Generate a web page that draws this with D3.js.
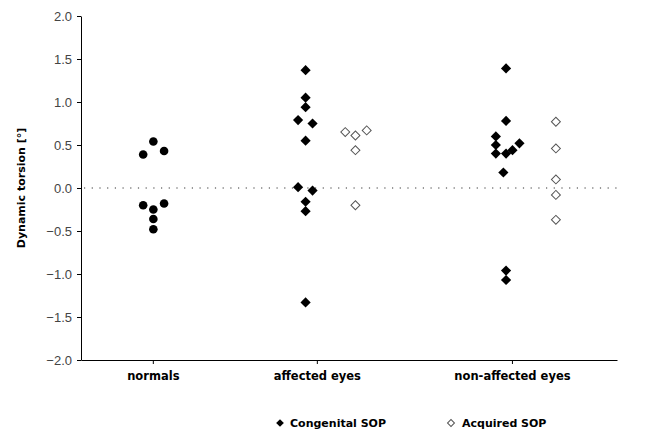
<!DOCTYPE html>
<html>
<head>
<meta charset="utf-8">
<script src="https://cdn.jsdelivr.net/npm/d3@7"></script>
<style>
  html, body { margin: 0; padding: 0; background: #fff; }
  svg { display: block; }
</style>
</head>
<body>
<script>
// ---- data ----
const categories = ["normals", "affected eyes", "non-affected eyes"];
const categoryPos = [13.4, 44.0, 80.4];
const yTickValues = [2.0, 1.5, 1.0, 0.5, 0.0, -0.5, -1.0, -1.5, -2.0];

const normalsPos = [11.6, 13.5, 15.5, 11.6, 13.5, 15.5, 13.5, 13.5];
const normalsVal = [0.39, 0.54, 0.43, -0.20, -0.25, -0.18, -0.36, -0.48];

const congenitalPos = [41.9, 41.9, 41.9, 40.5, 43.2, 41.9, 40.5, 43.2, 41.9, 41.9, 41.9,
                       79.3, 79.3, 77.4, 77.4, 81.8, 77.4, 79.3, 80.5, 78.8, 79.3, 79.3];
const congenitalVal = [1.37, 1.05, 0.94, 0.79, 0.75, 0.55, 0.01, -0.03, -0.16, -0.27, -1.33,
                       1.39, 0.78, 0.60, 0.50, 0.52, 0.40, 0.40, 0.44, 0.18, -0.96, -1.07];

const acquiredPos = [49.3, 51.2, 53.3, 51.2, 51.2, 88.6, 88.6, 88.6, 88.6, 88.6];
const acquiredVal = [0.65, 0.61, 0.67, 0.44, -0.20, 0.77, 0.46, 0.10, -0.08, -0.37];

const legendLabels = ["Congenital SOP", "Acquired SOP"];
const yTitle = "Dynamic torsion [°]";

// ---- layout ----
const W = 656, H = 435;
const svg = d3.select("body").append("svg").attr("width", W).attr("height", H);

const x = d3.scaleLinear().domain([0, 100]).range([81, 617]);
const y = d3.scaleLinear().domain([-2, 2]).range([360, 16]);

const boldFont = "'DejaVu Sans', Verdana, sans-serif";
const tickFont = "'Liberation Sans', Arial, sans-serif";

// y axis
const yAxis = svg.append("g").attr("transform", `translate(${x(0)},0)`)
  .call(d3.axisLeft(y).tickValues(yTickValues).tickFormat(d3.format(".1f")).tickSize(4).tickSizeOuter(0));
yAxis.select(".domain").attr("stroke", "#000").attr("stroke-width", 1);
yAxis.selectAll(".tick line").attr("stroke", "#000");
yAxis.selectAll(".tick text").attr("font-family", tickFont).attr("font-size", 13)
  .attr("fill", "#444").attr("x", -9);

// x axis
const xAxis = svg.append("g").attr("transform", `translate(0,${y(-2)})`)
  .call(d3.axisBottom(x).tickValues(categoryPos).tickFormat((d, i) => categories[i]).tickSize(4).tickSizeOuter(0));
xAxis.select(".domain").attr("stroke", "#000").attr("stroke-width", 1);
xAxis.selectAll(".tick line").attr("stroke", "#000");
xAxis.selectAll(".tick text").attr("font-family", boldFont).attr("font-weight", "bold")
  .attr("font-size", 11.5).attr("fill", "#000").attr("y", 12);

// zero dotted line
svg.append("line")
  .attr("x1", x(0) + 3).attr("x2", x(100))
  .attr("y1", y(0)).attr("y2", y(0))
  .attr("stroke", "#333").attr("stroke-width", 1)
  .attr("stroke-dasharray", "1.2,6.5");

// y title
svg.append("text")
  .attr("transform", `translate(25,${y(0)}) rotate(-90)`)
  .attr("text-anchor", "middle")
  .attr("font-family", boldFont).attr("font-weight", "bold").attr("font-size", 11)
  .text(yTitle);

// normals (circles)
svg.append("g").selectAll("circle").data(normalsVal).join("circle")
  .attr("cx", (d, i) => x(normalsPos[i]))
  .attr("cy", d => y(d))
  .attr("r", 4.3)
  .attr("fill", "#000");

const diamond = d3.symbol().type(d3.symbolSquare).size(52);

// congenital (filled diamonds)
svg.append("g").selectAll("path").data(congenitalVal).join("path")
  .attr("d", diamond)
  .attr("transform", (d, i) => `translate(${x(congenitalPos[i])},${y(d)}) rotate(45)`)
  .attr("fill", "#000");

// acquired (hollow diamonds)
const diamondH = d3.symbol().type(d3.symbolSquare).size(40);
svg.append("g").selectAll("path").data(acquiredVal).join("path")
  .attr("d", diamondH)
  .attr("transform", (d, i) => `translate(${x(acquiredPos[i])},${y(d)}) rotate(45)`)
  .attr("fill", "#fff").attr("stroke", "#555").attr("stroke-width", 1);

// legend
const legY = 423;
const leg = svg.append("g");
leg.append("path").attr("d", d3.symbol().type(d3.symbolSquare).size(30))
  .attr("transform", `translate(280,${legY}) rotate(45)`).attr("fill", "#000");
leg.append("text").attr("x", 290).attr("y", legY + 4)
  .attr("font-family", boldFont).attr("font-weight", "bold").attr("font-size", 11)
  .text(legendLabels[0]);
leg.append("path").attr("d", d3.symbol().type(d3.symbolSquare).size(24))
  .attr("transform", `translate(451,${legY}) rotate(45)`)
  .attr("fill", "#fff").attr("stroke", "#555").attr("stroke-width", 1);
leg.append("text").attr("x", 462).attr("y", legY + 4)
  .attr("font-family", boldFont).attr("font-weight", "bold").attr("font-size", 11)
  .text(legendLabels[1]);
</script>
</body>
</html>
